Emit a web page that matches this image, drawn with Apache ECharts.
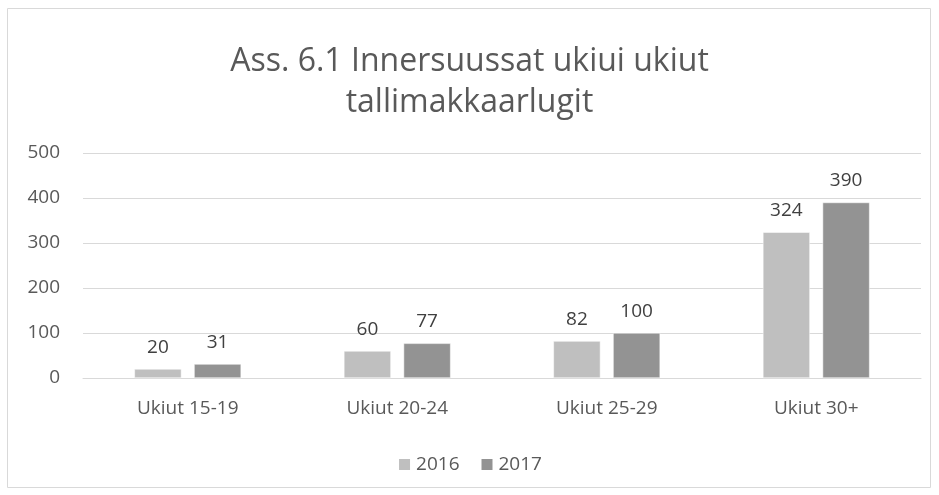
<!DOCTYPE html>
<html>
<head>
<meta charset="utf-8">
<script src="https://cdn.jsdelivr.net/npm/echarts@6/dist/echarts.min.js"></script>
<style>
  html, body { margin: 0; padding: 0; background: #fff; }
  #main { width: 939px; height: 495px; }
</style>
</head>
<body>
<div id="main"></div>
<script>
var categories = ["Ukiut 15-19", "Ukiut 20-24", "Ukiut 25-29", "Ukiut 30+"];
var seriesNames = ["2016", "2017"];
var values2016 = [20, 60, 82, 324];
var values2017 = [31, 77, 100, 390];

var chartDom = document.getElementById("main");
var myChart = echarts.init(chartDom);
var font = "'Open Sans', 'Liberation Sans', sans-serif";
var textColor = "#595959";

var option = {
  animation: false,
  textStyle: { fontFamily: font },
  color: ["#BFBFBF", "#939393"],
  title: {
    text: "Ass. 6.1 Innersuussat ukiui ukiut\ntallimakkaarlugit",
    left: "center",
    top: 36,
    textStyle: {
      fontSize: 32,
      fontWeight: "normal",
      color: textColor,
      lineHeight: 41,
      fontFamily: font,
    },
  },
  graphic: [
    {
      type: "rect",
      shape: { x: 7.5, y: 8.5, width: 923, height: 479 },
      style: { fill: "none", stroke: "#D9D9D9", lineWidth: 1 },
      silent: true,
    },
  ],
  grid: {
    left: 83,
    right: 18,
    top: 153,
    bottom: 117,
  },
  legend: {
    data: seriesNames,
    top: 450,
    left: "center",
    itemWidth: 13,
    itemHeight: 13,
    itemGap: 20,
    icon: "rect",
    textStyle: { fontSize: 19, color: textColor, fontFamily: font },
  },
  xAxis: {
    type: "category",
    data: categories,
    axisLine: { lineStyle: { color: "#D9D9D9" } },
    axisTick: { show: false },
    axisLabel: { fontSize: 19, color: textColor, margin: 21 },
  },
  yAxis: {
    type: "value",
    min: 0,
    max: 500,
    interval: 100,
    axisLine: { show: false },
    axisTick: { show: false },
    axisLabel: { fontSize: 19, color: textColor, margin: 23 },
    splitLine: { lineStyle: { color: "#D9D9D9" } },
  },
  series: [
    {
      name: seriesNames[0],
      type: "bar",
      data: values2016,
      barWidth: 47,
      barGap: "27%",
      itemStyle: { borderColor: "#fff", borderWidth: 0.5 },
      label: {
        show: true,
        position: "top",
        distance: 12,
        fontSize: 19,
        color: "#404040",
      },
    },
    {
      name: seriesNames[1],
      type: "bar",
      data: values2017,
      barWidth: 47,
      itemStyle: { borderColor: "#fff", borderWidth: 0.5 },
      label: {
        show: true,
        position: "top",
        distance: 12,
        fontSize: 19,
        color: "#404040",
      },
    },
  ],
};

option && myChart.setOption(option);
</script>
</body>
</html>
